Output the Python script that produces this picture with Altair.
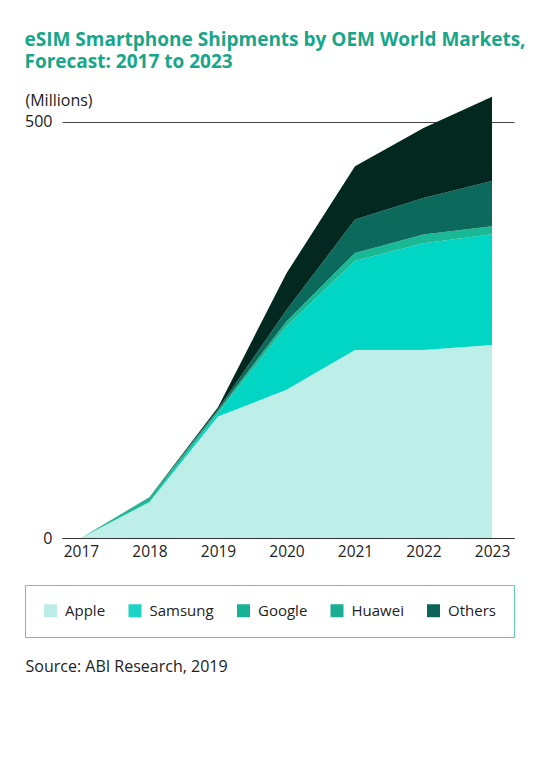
import altair as alt
import pandas as pd

years = [2017, 2018, 2019, 2020, 2021, 2022, 2023]
apple = [0, 43, 146, 178, 226, 226, 232]
samsung = [0, 0.5, 4, 76, 107, 128, 133]
google = [0, 5, 3, 6, 9.5, 10.5, 9.5]
huawei = [0, 0.3, 2, 14, 40, 44, 54.5]
others = [0, 0.2, 2, 44, 64, 84, 101]

series = ["Apple", "Samsung", "Google", "Huawei", "Others"]
area_colors = ["#bdeee8", "#00d6c3", "#1ab995", "#0b6a5c", "#03281f"]
legend_colors = ["#bcece6", "#1dd3c4", "#17b294", "#18ae91", "#0c6459"]

rows = []
for i, (name, vals) in enumerate(zip(series, [apple, samsung, google, huawei, others])):
    for y, v in zip(years, vals):
        rows.append({"year": y, "value": v, "oem": name, "idx": i})
df = pd.DataFrame(rows)

FONT = "Open Sans"

x_enc = alt.X(
    "year:Q",
    scale=alt.Scale(domain=[2016.723, 2023.321], nice=False, zero=False),
    axis=alt.Axis(
        values=years, format="d", ticks=False, grid=False,
        domainColor="#333333", domainWidth=1.2,
        labelFontSize=15.5, labelColor="#222222", labelFont=FONT, labelPadding=6,
        title="Source: ABI Research, 2019", titleFont=FONT, titleFontSize=16,
        titleFontWeight="normal", titleColor="#222222", titleAnchor="start",
        titleAlign="left", titleX=-37, titleY=128, titleBaseline="middle",
    ),
)

y_enc = alt.Y(
    "value:Q", stack="zero",
    scale=alt.Scale(domain=[0, 540.6], nice=False),
    axis=alt.Axis(
        values=[0, 500], ticks=False, domain=False, grid=True,
        gridColor="#444444", gridWidth=1.2,
        labelFontSize=16, labelColor="#222222", labelFont=FONT, labelPadding=10,
        title="(Millions)", titleFont=FONT, titleFontSize=16, titleFontWeight="normal",
        titleColor="#222222", titleAngle=0, titleAlign="left", titleBaseline="middle",
        titleX=-37, titleY=12,
    ),
)

area = alt.Chart(df).mark_area(interpolate="linear").encode(
    x=x_enc,
    y=y_enc,
    color=alt.Color("oem:N", scale=alt.Scale(domain=series, range=area_colors), legend=None),
    order=alt.Order("idx:Q", sort="ascending"),
)

legend_layer = alt.Chart(df).mark_square(opacity=0, size=0).encode(
    x=alt.X("year:Q"),
    y=alt.Y("value:Q"),
    fill=alt.Fill(
        "oem:N",
        scale=alt.Scale(domain=series, range=legend_colors),
        legend=alt.Legend(
            title=None, orient="none", legendX=-37, legendY=497,
            direction="horizontal", columns=5, columnPadding=21.5,
            symbolType="square", symbolSize=169, symbolOpacity=1, symbolStrokeWidth=0,
            labelFontSize=15, labelFont=FONT, labelColor="#222222", labelOffset=7,
            strokeColor="#62c8b6", padding=18, cornerRadius=0,
        ),
    ),
)

chart = alt.layer(area, legend_layer).resolve_scale(fill="independent", color="independent").properties(
    width=452,
    height=450,
    autosize=alt.AutoSizeParams(type="none"),
    padding={"left": 54, "top": 80, "right": 14, "bottom": 160},
    title=alt.TitleParams(
        text=["eSIM Smartphone Shipments by OEM World Markets,", "Forecast: 2017 to 2023"],
        anchor="start", offset=16, font=FONT, fontSize=19, fontWeight="bold",
        color="#17a689", lineHeight=22,
    ),
).configure_view(stroke=None)

chart.save("out.html", embed_options={"renderer": "svg", "actions": False})
